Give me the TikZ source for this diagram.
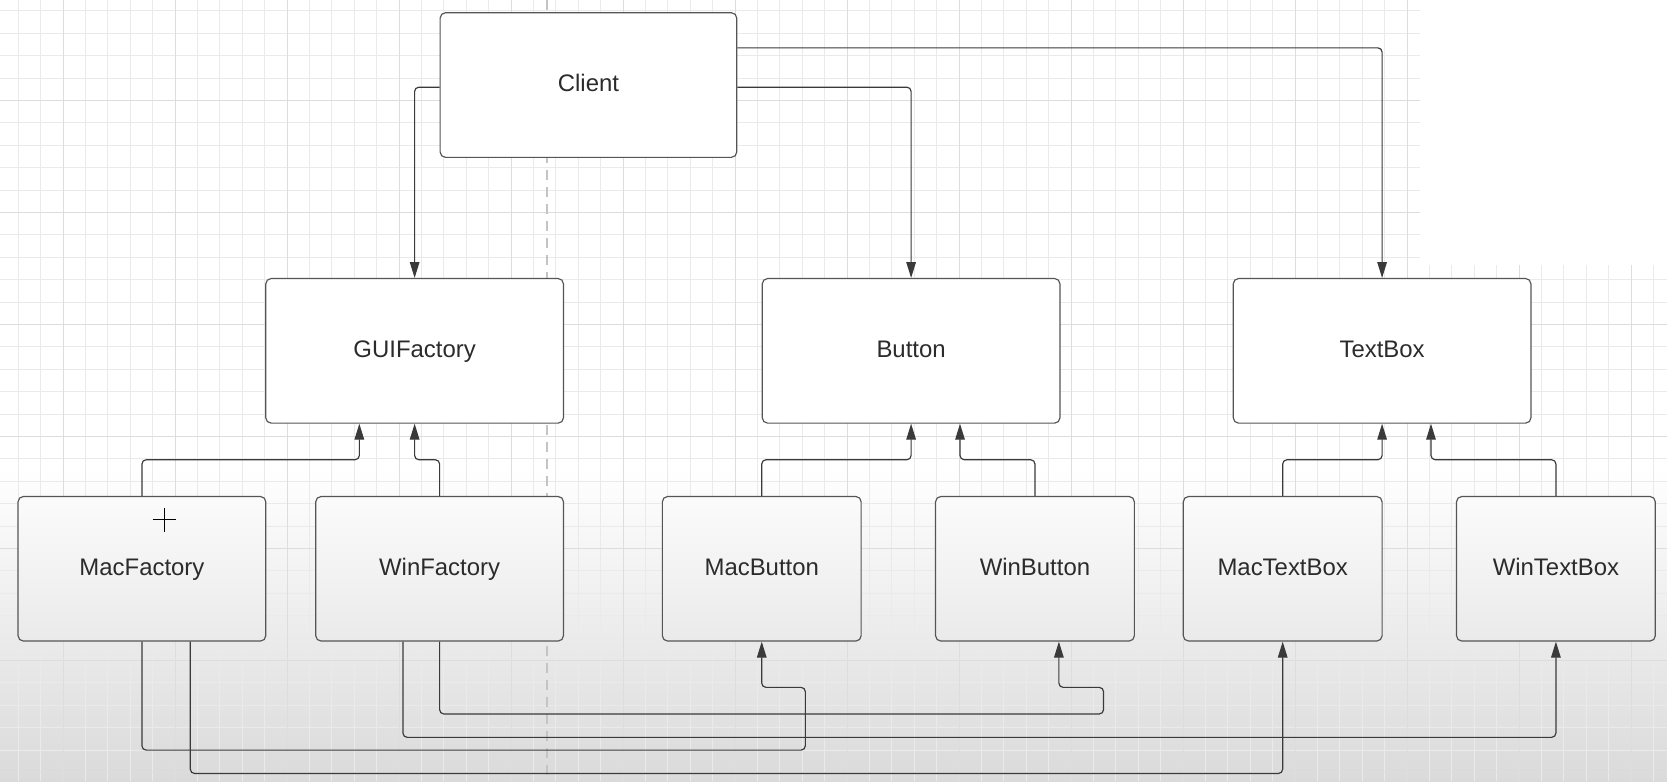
\documentclass[tikz,border=0pt]{standalone}
\usepackage{fontspec}
\setmainfont{Liberation Sans}
\usetikzlibrary{arrows.meta}
\definecolor{gridminor}{HTML}{EAEAEA}
\definecolor{gridmajor}{HTML}{DDDDDD}
\definecolor{bgbot}{HTML}{DADADA}
\definecolor{boxborder}{HTML}{555555}
\definecolor{linecol}{HTML}{3A3A3A}
\definecolor{txt}{HTML}{2B2B2B}
\definecolor{boxtop}{HTML}{FBFBFB}
\definecolor{boxbot}{HTML}{EAEAEA}
\definecolor{dashcol}{HTML}{C4C4C4}
\tikzset{
  box/.style={draw=boxborder, line width=1.1pt, rounded corners=5pt, fill=white,
    text=txt, font=\fontsize{22.5}{27}\selectfont, inner sep=0pt,
    text height=17pt, text depth=5pt, minimum height=136pt},
  lowbox/.style={box, top color=boxtop, bottom color=boxbot},
  conn/.style={draw=linecol, line width=1.1pt, rounded corners=4pt,
    -{Triangle[length=15pt,width=9pt]}},
}
\begin{document}
\begin{tikzpicture}[x=1pt,y=-1pt]
\useasboundingbox (0,0) rectangle (1568,735);
% background
\fill[white] (0,0) rectangle (1568,735);
\shade[top color=white,bottom color=bgbot] (0,440) rectangle (1568,735);
% grid
\foreach \i in {0,...,73} {
  \pgfmathsetmacro\gx{17.2+\i*21.07}
  \draw[gridminor, line width=1pt] (\gx,0) -- (\gx,735);
}
\foreach \i in {0,...,34} {
  \pgfmathsetmacro\gy{10.3+\i*21.07}
  \draw[gridminor, line width=1pt] (0,\gy) -- (1568,\gy);
}
\foreach \i in {2,7,...,72} {
  \pgfmathsetmacro\gx{17.2+\i*21.07}
  \draw[gridmajor, line width=1pt] (\gx,0) -- (\gx,735);
}
\foreach \i in {4,9,...,34} {
  \pgfmathsetmacro\gy{10.3+\i*21.07}
  \draw[gridmajor, line width=1pt] (0,\gy) -- (1568,\gy);
}
\fill[white] (1336,0) rectangle (1568,249);
% dashed divider
\draw[dashcol, line width=1.4pt, dash pattern=on 9pt off 7pt] (514.5,0) -- (514.5,735);

% nodes
\node[box, minimum width=279pt] (Client) at (553.5,80) {Client};
\node[box, minimum width=280pt] (GUIFactory) at (390,330) {GUIFactory};
\node[box, minimum width=280pt] (Button) at (857,330) {Button};
\node[box, minimum width=280pt] (TextBox) at (1300,330) {TextBox};
\node[lowbox, minimum width=233pt] (MacFactory) at (133.5,535) {MacFactory};
\node[lowbox, minimum width=233pt] (WinFactory) at (413.5,535) {WinFactory};
\node[lowbox, minimum width=187pt] (MacButton) at (716.5,535) {MacButton};
\node[lowbox, minimum width=187pt] (WinButton) at (973.5,535) {WinButton};
\node[lowbox, minimum width=187pt] (MacTextBox) at (1206.5,535) {MacTextBox};
\node[lowbox, minimum width=187pt] (WinTextBox) at (1463.5,535) {WinTextBox};

% client associations
\draw[conn] ([yshift=-2pt]Client.west) -| (GUIFactory.north);
\draw[conn] ([yshift=-2pt]Client.east) -| (Button.north);
\draw[conn] ([yshift=35pt]Client.east) -| (TextBox.north);

% inheritance
\draw[conn] (MacFactory.north) -- ++(0,-34) -| ([xshift=-52pt]GUIFactory.south);
\draw[conn] (WinFactory.north) -- ++(0,-34) -| (GUIFactory.south);
\draw[conn] (MacButton.north) -- ++(0,-34) -| (Button.south);
\draw[conn] (WinButton.north) -- ++(0,-34) -| ([xshift=46pt]Button.south);
\draw[conn] (MacTextBox.north) -- ++(0,-34) -| (TextBox.south);
\draw[conn] (WinTextBox.north) -- ++(0,-34) -| ([xshift=46pt]TextBox.south);

% creation links
\draw[conn] (WinFactory.south) -- ++(0,68) -- ++(624.5,0) -- ++(0,-25) -- ++(-42,0)
  -- ([xshift=22.5pt]WinButton.south);
\draw[conn] ([xshift=-34.5pt]WinFactory.south) -- ++(0,90) -| (WinTextBox.south);
\draw[conn] (MacFactory.south) -- ++(0,102) -- ++(624,0) -- ++(0,-59) -- ++(-41,0)
  -- (MacButton.south);
\draw[conn] ([xshift=45.5pt]MacFactory.south) -- ++(0,124) -| (MacTextBox.south);

% cursor
\draw[black, line width=1.1pt] (143.5,489) -- (165.5,489) (154.5,478) -- (154.5,500);
\end{tikzpicture}
\end{document}
